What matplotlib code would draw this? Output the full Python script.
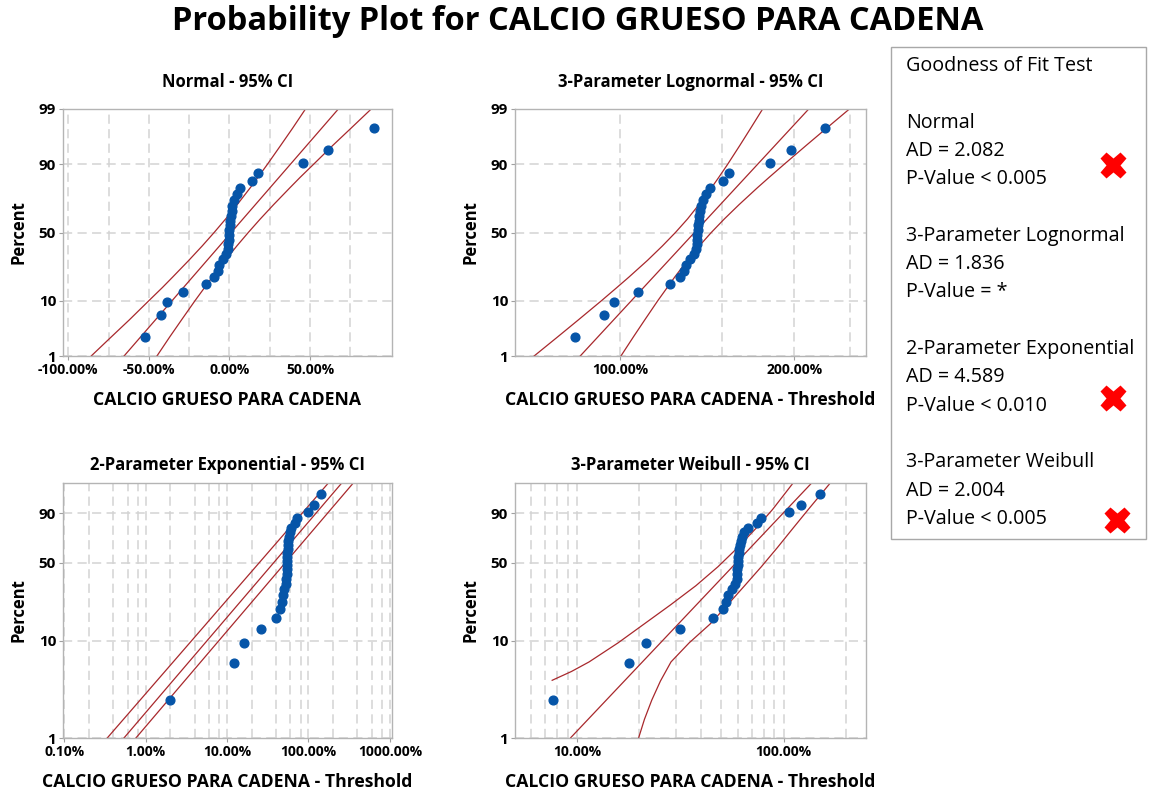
import math
import numpy as np
import matplotlib
matplotlib.use("Agg")
import matplotlib.pyplot as plt
from matplotlib.patches import Rectangle
from matplotlib.ticker import FixedLocator, FixedFormatter, NullFormatter

plt.rcParams['font.family'] = ['Open Sans', 'DejaVu Sans']
plt.rcParams['font.weight'] = 'bold'
plt.rcParams['axes.titleweight'] = 'bold'
plt.rcParams['axes.labelweight'] = 'bold'

# -------------------------
# datos (en %), ordenados
# -------------------------
calcio = [-52.6, -42.3, -38.6, -28.7, -14.5, -9.4, -7.3, -6.3, -4.2, -2.0,
          -1.0, -0.6, -0.4, -0.2, 0.0, 0.2, 0.5, 0.8, 1.3, 1.8,
          3.0, 4.5, 6.8, 14.3, 18.0, 45.6, 61.0, 89.9]
# posiciones de graficado (rango mediano, %)
percent = [2.5, 6.0, 9.5, 13.0, 16.5, 20.1, 23.6, 27.1, 30.6, 34.2,
           37.7, 41.2, 44.7, 48.2, 51.8, 55.3, 58.8, 62.3, 65.8, 69.4,
           72.9, 76.4, 79.9, 83.5, 87.0, 90.5, 94.0, 97.5]

thr_lognormal = -136.2
thr_expo = -54.6
thr_weibull = -60.2

ci_pct = [1, 2.5, 5, 10, 15, 20, 30, 40, 50, 60, 70, 80, 85, 90, 95, 97.5, 99]

# Normal
norm_fit_pct = [1, 99]
norm_fit_x = [-65.4, 67.6]
norm_ci_lo = [-85.8, -73.1, -62.1, -49.9, -41.6, -35.3, -25.2, -16.9, -9.5,
              -2.4, 4.8, 12.9, 17.6, 23.5, 31.9, 39.1, 47.2]
norm_ci_hi = [-45.0, -36.9, -29.7, -21.3, -15.4, -10.7, -2.6, 4.6, 11.7,
              19.1, 27.4, 37.5, 43.8, 52.1, 64.3, 75.3, 88.0]

# 3-parametros lognormal (x - threshold)
logn_fit_pct = [1, 99]
logn_fit_x = [85.3, 211.8]
logn_ci_lo = [71.0, 78.1, 84.7, 92.9, 98.7, 103.5, 111.5, 118.3, 124.6,
              130.7, 136.8, 143.8, 148.0, 153.3, 161.1, 168.0, 176.3]
logn_ci_hi = [100.3, 105.5, 110.3, 116.2, 120.6, 124.2, 130.7, 137.0, 143.7,
              151.3, 160.5, 172.6, 180.8, 191.9, 209.9, 227.1, 249.0]

# 2-parametros exponencial (x - threshold)
expo_pct = [1, 99.14]
expo_fit_x = [0.542, 257.0]
expo_lo_x = [0.338, 175.9]
expo_hi_x = [0.76, 356.0]

# 3-parametros Weibull (x - threshold)
weib_fit_pct = [1, 99.14]
weib_fit_x = [9.28, 136.9]
weib_lo_pct = [3.97, 4.89, 6.12, 9.52, 14.66, 22.21, 32.84, 46.79, 63.21, 79.50, 91.89, 99.14]
weib_lo_x = [7.57, 9.39, 11.43, 15.79, 21.18, 28.40, 37.63, 48.19, 60.02, 73.42, 88.55, 111.3]
weib_hi_pct = [1.0, 1.57, 2.48, 3.90, 6.12, 9.52, 14.66, 22.21, 32.84, 46.79, 63.21, 79.50, 91.89, 99.14]
weib_hi_x = [19.85, 21.2, 23.0, 25.33, 28.5, 34.9, 44.2, 53.6, 64.80, 78.16, 93.41, 110.9, 131.9, 168.5]

gof_lines = ["Goodness of Fit Test", "",
             "Normal", "AD = 2.082", "P-Value < 0.005", "",
             "3-Parameter Lognormal", "AD = 1.836", "P-Value = *", "",
             "2-Parameter Exponential", "AD = 4.589", "P-Value < 0.010", "",
             "3-Parameter Weibull", "AD = 2.004", "P-Value < 0.005"]
cruz_x = [1113, 1113, 1117]
cruz_y = [165, 398, 520]

AZUL = '#0655a8'
ROJO = '#a8282c'
GRIS = '#d3d3d3'


# -------------------------
# escalas de probabilidad
# -------------------------
_a = [-3.969683028665376e+01, 2.209460984245205e+02, -2.759285104469687e+02,
      1.383577518672690e+02, -3.066479806614716e+01, 2.506628277459239e+00]
_b = [-5.447609879822406e+01, 1.615858368580409e+02, -1.556989798598866e+02,
      6.680131188771972e+01, -1.328068155288572e+01]
_c = [-7.784894002430293e-03, -3.223964580411365e-01, -2.400758277161838e+00,
      -2.549732539343734e+00, 4.374664141464968e+00, 2.938163982698783e+00]
_d = [7.784695709041462e-03, 3.224671290700398e-01, 2.445134137142996e+00,
      3.754408661907416e+00]


def ppf(p):
    p = np.clip(np.asarray(p, float), 1e-12, 1 - 1e-12)
    q = p - 0.5
    r = q * q
    central = (((((_a[0]*r + _a[1])*r + _a[2])*r + _a[3])*r + _a[4])*r + _a[5]) * q / \
              (((((_b[0]*r + _b[1])*r + _b[2])*r + _b[3])*r + _b[4])*r + 1)
    ql = np.sqrt(-2 * np.log(p))
    low = (((((_c[0]*ql + _c[1])*ql + _c[2])*ql + _c[3])*ql + _c[4])*ql + _c[5]) / \
          ((((_d[0]*ql + _d[1])*ql + _d[2])*ql + _d[3])*ql + 1)
    qh = np.sqrt(-2 * np.log(1 - p))
    high = -(((((_c[0]*qh + _c[1])*qh + _c[2])*qh + _c[3])*qh + _c[4])*qh + _c[5]) / \
           ((((_d[0]*qh + _d[1])*qh + _d[2])*qh + _d[3])*qh + 1)
    return np.where(p < 0.02425, low, np.where(p > 1 - 0.02425, high, central))


_erf = np.vectorize(math.erf)


def normal_fwd(pct):
    return ppf(np.asarray(pct, float) / 100.0)


def normal_inv(z):
    return 50.0 * (1.0 + _erf(np.asarray(z, float) / math.sqrt(2)))


def loglog_fwd(pct):
    p = np.clip(np.asarray(pct, float) / 100.0, 1e-12, 1 - 1e-12)
    return np.log10(-np.log1p(-p))


def loglog_inv(t):
    return 100.0 * (-np.expm1(-10.0 ** np.asarray(t, float)))


# -------------------------
# estilo de cada panel
# -------------------------
def estilo(ax, titulo, xlabel, pad, major, labels, minor, yticks):
    ax.set_title(titulo, fontsize=12, pad=pad)
    ax.set_xlabel(xlabel, fontsize=12.7, labelpad=10)
    ax.set_ylabel("Percent", fontsize=12, labelpad=8)
    ax.xaxis.set_major_locator(FixedLocator(major))
    ax.xaxis.set_major_formatter(FixedFormatter(labels))
    ax.xaxis.set_minor_locator(FixedLocator(minor))
    ax.xaxis.set_minor_formatter(NullFormatter())
    ax.yaxis.set_major_locator(FixedLocator(yticks))
    ax.yaxis.set_major_formatter(FixedFormatter([str(t) for t in yticks]))
    ax.yaxis.set_minor_locator(FixedLocator([]))
    ax.grid(True, which='both', color=GRIS, linestyle=(0, (6, 3.5)), linewidth=1.1)
    ax.set_axisbelow(True)
    ax.tick_params(which='major', length=3, color='#a0a0a0', pad=2)
    ax.tick_params(axis='x', labelsize=10)
    ax.tick_params(axis='y', labelsize=11)
    ax.tick_params(which='minor', length=0)
    for s in ax.spines.values():
        s.set_color('#b4b4b4')
        s.set_linewidth(1.0)


def puntos(ax, xs):
    ax.plot(xs, percent, 'o', color=AZUL, ms=6.3, mec=AZUL, zorder=5, clip_on=False)


def lineas(ax, *pares):
    for xs, ps in pares:
        ax.plot(xs, ps, color=ROJO, lw=0.9)


fig = plt.figure(figsize=(11.54, 7.93), dpi=100)
W, H = 1154, 793


def caja(x0, x1, y0, y1):
    return [x0 / W, 1 - y1 / H, (x1 - x0) / W, (y1 - y0) / H]


ax1 = fig.add_axes(caja(63, 392, 109, 356))
ax2 = fig.add_axes(caja(515, 866, 109, 356))
ax3 = fig.add_axes(caja(63, 392, 483, 738))
ax4 = fig.add_axes(caja(515, 866, 483, 738))

# Normal
ax1.set_yscale('function', functions=(normal_fwd, normal_inv))
lineas(ax1, (norm_fit_x, norm_fit_pct), (norm_ci_lo, ci_pct), (norm_ci_hi, ci_pct))
puntos(ax1, calcio)
ax1.set_xlim(-103.3, 100.9)
ax1.set_ylim(1, 99)
estilo(ax1, "Normal - 95% CI", "CALCIO GRUESO PARA CADENA", 16,
       [-100, -50, 0, 50], ['-100.00%', '-50.00%', '0.00%', '50.00%'],
       [-75, -25, 25, 75], [1, 10, 50, 90, 99])

# Lognormal
ax2.set_xscale('log')
ax2.set_yscale('function', functions=(normal_fwd, normal_inv))
lineas(ax2, (logn_fit_x, logn_fit_pct), (logn_ci_lo, ci_pct), (logn_ci_hi, ci_pct))
puntos(ax2, [v - thr_lognormal for v in calcio])
ax2.set_xlim(65.8, 266.0)
ax2.set_ylim(1, 99)
estilo(ax2, "3-Parameter Lognormal - 95% CI", "CALCIO GRUESO PARA CADENA - Threshold", 16,
       [100, 200], ['100.00%', '200.00%'], [150, 250], [1, 10, 50, 90, 99])

# Exponencial
ax3.set_xscale('log')
ax3.set_yscale('function', functions=(loglog_fwd, loglog_inv))
lineas(ax3, (expo_fit_x, expo_pct), (expo_lo_x, expo_pct), (expo_hi_x, expo_pct))
puntos(ax3, [v - thr_expo for v in calcio])
ax3.set_xlim(0.0967, 1064)
ax3.set_ylim(1, 99.14)
estilo(ax3, "2-Parameter Exponential - 95% CI", "CALCIO GRUESO PARA CADENA - Threshold", 9,
       [0.1, 1, 10, 100, 1000], ['0.10%', '1.00%', '10.00%', '100.00%', '1000.00%'],
       [0.2, 0.4, 0.6, 0.8, 2, 4, 6, 8, 20, 40, 60, 80, 200, 400, 600, 800],
       [1, 10, 50, 90])

# Weibull
ax4.set_xscale('log')
ax4.set_yscale('function', functions=(loglog_fwd, loglog_inv))
lineas(ax4, (weib_fit_x, weib_fit_pct), (weib_lo_x, weib_lo_pct), (weib_hi_x, weib_hi_pct))
puntos(ax4, [v - thr_weibull for v in calcio])
ax4.set_xlim(5, 251)
ax4.set_ylim(1, 99.14)
estilo(ax4, "3-Parameter Weibull - 95% CI", "CALCIO GRUESO PARA CADENA - Threshold", 9,
       [10, 100], ['10.00%', '100.00%'],
       [6, 7, 8, 9, 20, 30, 40, 50, 60, 70, 80, 90, 200], [1, 10, 50, 90])

# -------------------------
# titulo y cuadro de bondad de ajuste (coordenadas en pixeles)
# -------------------------
ov = fig.add_axes([0, 0, 1, 1], zorder=-1)
ov.set_xlim(0, W)
ov.set_ylim(H, 0)
ov.axis('off')

ov.text(578, 22, "Probability Plot for CALCIO GRUESO PARA CADENA",
        ha='center', va='center', fontsize=23.5, fontweight='bold')

ov.add_patch(Rectangle((891, 47), 255, 492, fill=False, ec='#a8a8a8', lw=1.0))
y = 66
for linea in gof_lines:
    if linea:
        ov.text(906, y, linea, ha='left', va='center', fontsize=14.2, fontweight='normal')
    y += 28.3

ov.plot(cruz_x, cruz_y, 'X', ms=19, color='#ff0000', mec='none', lw=0)

fig.savefig("out.png", dpi=100)
